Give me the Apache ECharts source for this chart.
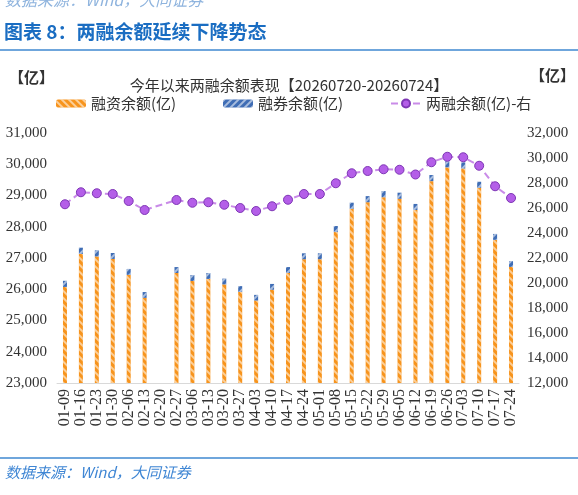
<!DOCTYPE html>
<html>
<head>
<meta charset="utf-8">
<script src="https://cdn.jsdelivr.net/npm/echarts@6/dist/echarts.min.js"></script>
<style>
  html, body { margin: 0; padding: 0; background: #fff; }
  #main { width: 578px; height: 495px; }
</style>
</head>
<body>
<div id="main"></div>
<script>
// 周度日期
var dates = ['01-09', '01-16', '01-23', '01-30', '02-06', '02-13', '02-20', '02-27', '03-06', '03-13',
  '03-20', '03-27', '04-03', '04-10', '04-17', '04-24', '05-01', '05-08', '05-15', '05-22',
  '05-29', '06-05', '06-12', '06-19', '06-26', '07-03', '07-10', '07-17', '07-24'];
// 融资余额(亿)
var financing = [26075, 27130, 27050, 26970, 26460, 25725, null, 26520, 26265, 26330,
  26155, 25915, 25640, 25985, 26520, 26960, 26960, 27830, 28575, 28785,
  28945, 28895, 28535, 29460, 29900, 29865, 29245, 27580, 26715];
// 融券余额(亿)
var lending = [195, 200, 195, 190, 190, 185, null, 190, 190, 190,
  185, 185, 180, 185, 190, 190, 190, 195, 195, 195,
  200, 195, 195, 195, 200, 195, 195, 190, 185];
// 两融余额(亿)-右
var total = [26300, 27260, 27180, 27120, 26560, 25840, null, 26640, 26420, 26460,
  26260, 26000, 25760, 26140, 26660, 27120, 27120, 27980, 28780, 28960,
  29100, 29060, 28680, 29660, 30100, 30060, 29380, 27740, 26800];

var serif = "'Liberation Serif', 'Noto Sans CJK SC', serif";
var cjk = "'Noto Sans CJK SC', sans-serif";

var myChart = echarts.init(document.getElementById('main'));

function fmt(v) {
  return v.toString().replace(/\B(?=(\d{3})+(?!\d))/g, ',');
}

var legendText = { fontSize: 15, color: '#333', fontFamily: cjk };

var option = {
  animation: false,
  backgroundColor: '#fff',
  title: {
    text: '今年以来两融余额表现【20260720-20260724】',
    left: 'center',
    top: 73,
    textStyle: { fontSize: 15, fontWeight: 'normal', color: '#333', fontFamily: cjk }
  },
  legend: [
    { data: ['融资余额(亿)'], left: 51, top: 91, itemWidth: 30, itemHeight: 8, itemGap: 4, textStyle: legendText },
    { data: ['融券余额(亿)'], left: 218, top: 91, itemWidth: 30, itemHeight: 8, itemGap: 4, textStyle: legendText },
    { data: ['两融余额(亿)-右'], left: 385, top: 91, itemWidth: 30, itemHeight: 10, itemGap: 4, textStyle: legendText }
  ],
  grid: { left: 57, right: 59, top: 133, bottom: 112, containLabel: false },
  xAxis: {
    type: 'category',
    data: dates,
    axisTick: { show: false },
    axisLine: { lineStyle: { color: '#d9d9d9' } },
    axisLabel: { rotate: 90, interval: 0, fontSize: 16, color: '#333', fontFamily: serif, margin: 6 }
  },
  yAxis: [
    {
      type: 'value', min: 23000, max: 31000, interval: 1000,
      splitLine: { show: false },
      axisLine: { show: false }, axisTick: { show: false },
      axisLabel: { fontSize: 15, color: '#333', fontFamily: serif, margin: 10, formatter: fmt }
    },
    {
      type: 'value', min: 12000, max: 32000, interval: 2000,
      splitLine: { show: false },
      axisLine: { show: false }, axisTick: { show: false },
      axisLabel: { fontSize: 15, color: '#333', fontFamily: serif, margin: 8, formatter: fmt }
    }
  ],
  series: [
    {
      name: '融资余额(亿)',
      type: 'bar',
      stack: 'lr',
      barWidth: 4,
      data: financing,
      itemStyle: {
        color: '#f7941d',
        decal: {
          symbol: 'rect', color: 'rgba(255,255,255,0.55)',
          dashArrayX: [1, 0], dashArrayY: [2, 3], rotation: Math.PI / 4
        }
      }
    },
    {
      name: '融券余额(亿)',
      type: 'bar',
      stack: 'lr',
      barWidth: 4,
      data: lending,
      itemStyle: {
        color: '#3f6db5',
        decal: {
          symbol: 'rect', color: 'rgba(255,255,255,0.55)',
          dashArrayX: [1, 0], dashArrayY: [2, 3], rotation: -Math.PI / 4
        }
      }
    },
    {
      name: '两融余额(亿)-右',
      type: 'line',
      yAxisIndex: 1,
      data: total,
      connectNulls: true,
      symbol: 'circle',
      symbolSize: 9,
      lineStyle: { color: '#c98be8', width: 2, type: [7, 4] },
      itemStyle: { color: '#b45ee8', borderColor: '#7e37b5', borderWidth: 1 }
    }
  ],
  graphic: [
    {
      type: 'text', left: 5, top: -8,
      style: { text: '数据来源：Wind，大同证券', fontSize: 16, fontStyle: 'italic', fill: '#8fb4de', fontFamily: cjk }
    },
    {
      type: 'text', left: 4, top: 22,
      style: { text: '图表 8：两融余额延续下降势态', fontSize: 19, fontWeight: 'bold', fill: '#1a6dc2', fontFamily: cjk }
    },
    {
      type: 'rect', shape: { x: 0, y: 49, width: 578, height: 2 },
      style: { fill: '#6fa6dc' }
    },
    {
      type: 'text', left: 9, top: 70,
      style: { text: '【亿】', fontSize: 15, fontWeight: 'bold', fill: '#333', fontFamily: cjk }
    },
    {
      type: 'text', left: 530, top: 68,
      style: { text: '【亿】', fontSize: 15, fontWeight: 'bold', fill: '#333', fontFamily: cjk }
    },
    {
      type: 'rect', shape: { x: 0, y: 457, width: 578, height: 2 },
      style: { fill: '#6fa6dc' }
    },
    {
      type: 'text', left: 5, top: 465,
      style: { text: '数据来源：Wind，大同证券', fontSize: 15, fontStyle: 'italic', fill: '#3f86d4', fontFamily: cjk }
    }
  ]
};

myChart.setOption(option);
</script>
</body>
</html>
